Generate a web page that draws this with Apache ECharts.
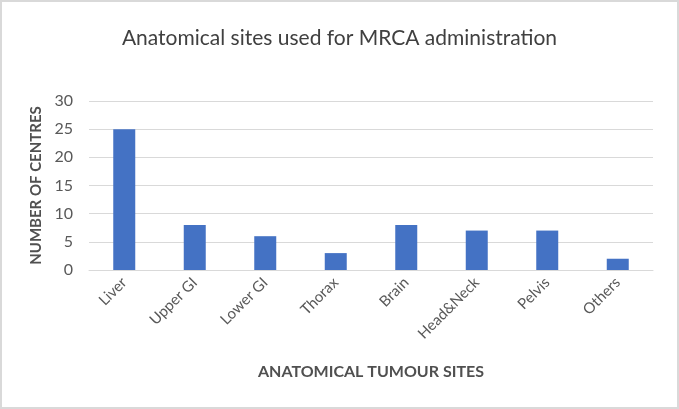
<!DOCTYPE html>
<html>
<head>
<meta charset="utf-8">
<script src="https://cdn.jsdelivr.net/npm/echarts@6/dist/echarts.min.js"></script>
<style>
html,body{margin:0;padding:0;background:#fff;}
#c{width:679px;height:409px;box-sizing:border-box;border:2px solid #d9d9d9;}
</style>
</head>
<body>
<div id="c"></div>
<script>
const categories = ["Liver","Upper GI","Lower GI","Thorax","Brain","Head&Neck","Pelvis","Others"];
const values = [25, 8, 6, 3, 8, 7, 7, 2];
const yTicks = [0, 5, 10, 15, 20, 25, 30];

const chart = echarts.init(document.getElementById('c'));
chart.setOption({
  animation: false,
  textStyle: { fontFamily: 'Lato' },
  title: {
    text: 'Anatomical sites used for MRCA administration',
    left: 'center', top: 21,
    textStyle: { fontFamily: 'Lato', fontSize: 21, fontWeight: 'normal', color: '#404040' }
  },
  grid: { left: 87, right: 24, top: 99, bottom: 137, containLabel: false },
  xAxis: {
    type: 'category',
    data: categories,
    name: 'ANATOMICAL TUMOUR SITES',
    nameLocation: 'middle',
    nameGap: 94,
    nameTextStyle: { fontFamily: 'Lato', fontSize: 16, fontWeight: 'bold', color: '#505050' },
    axisLine: { lineStyle: { color: '#d9d9d9', width: 1 } },
    axisTick: { show: false },
    axisLabel: { rotate: 45, color: '#595959', fontSize: 15, margin: 10, interval: 0 }
  },
  yAxis: {
    type: 'value',
    min: yTicks[0], max: yTicks[yTicks.length - 1], interval: 5,
    name: 'NUMBER OF CENTRES',
    nameLocation: 'middle',
    nameGap: 42,
    nameTextStyle: { fontFamily: 'Lato', fontSize: 15, fontWeight: 'bold', color: '#505050' },
    axisLine: { show: false },
    axisTick: { show: false },
    axisLabel: { color: '#595959', fontSize: 16, margin: 16 },
    splitLine: { lineStyle: { color: '#d9d9d9', width: 1 } }
  },
  series: [{
    type: 'bar',
    data: values,
    barWidth: 22,
    itemStyle: { color: '#4472C4' }
  }]
});
</script>
</body>
</html>
